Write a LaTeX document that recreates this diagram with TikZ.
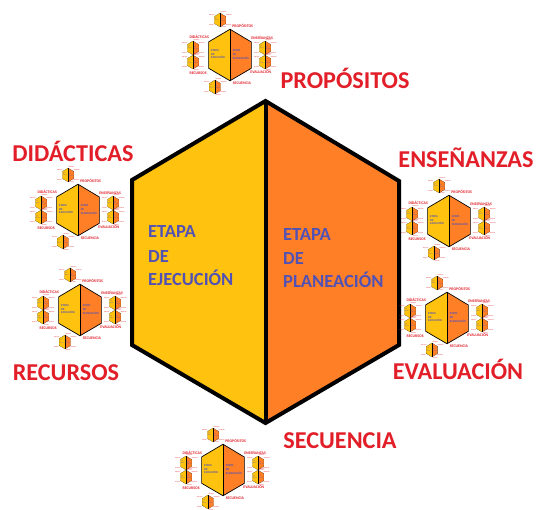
\documentclass[tikz,border=0pt]{standalone}
\usepackage{fontspec}
\setmainfont{Carlito}
\definecolor{hexyellow}{RGB}{255,194,14}
\definecolor{hexorange}{RGB}{255,127,39}
\definecolor{labred}{RGB}{226,30,40}
\definecolor{etapablue}{RGB}{82,82,180}
\tikzset{
  biglabel/.style={text=labred, font=\fontsize{24.2}{24.2}\selectfont\bfseries, inner sep=0pt, anchor=base},
  etapatext/.style={text=etapablue, font=\fontsize{18.5}{18.5}\selectfont\bfseries, inner sep=0pt, anchor=base west},
}
\newcommand{\drawhex}[1]{%
  \fill[hexyellow] (0,-161) -- (-133.5,-82) -- (-133.5,83) -- (0,161) -- cycle;
  \fill[hexorange] (0,-161) -- (133.5,-81) -- (133.5,83) -- (0,161) -- cycle;
  \draw[line width=#1, line join=miter] (0,-161) -- (-133.5,-82) -- (-133.5,83) -- (0,161) -- (133.5,83) -- (133.5,-81) -- cycle;
  \draw[line width=#1] (0,-161) -- (0,161);
  \node[etapatext] (ej1) at (-117.5,-24) {ETAPA};
  \node[etapatext] (ej2) at (-117.5,1) {DE};
  \node[etapatext] (ej3) at (-117.5,24) {EJECUCIÓN};
  \node[etapatext] (pl1) at (17.5,-21) {ETAPA};
  \node[etapatext] (pl2) at (17.5,3) {DE};
  \node[etapatext] (pl3) at (17.5,26) {PLANEACIÓN};
}
\newcommand{\drawlabels}{%
  \node[biglabel] (prop) at (79.5,-173) {PROPÓSITOS};
  \node[biglabel] (did) at (-192.5,-100) {DIDÁCTICAS};
  \node[biglabel] (ens) at (200.5,-94) {ENSEÑANZAS};
  \node[biglabel] (rec) at (-199.5,119) {RECURSOS};
  \node[biglabel] (eva) at (192.5,118) {EVALUACIÓN};
  \node[biglabel] (sec) at (74.5,186) {SECUENCIA};
}
\newcommand{\minidiag}[2]{%
  \begin{scope}[shift={(#1,#2)}, scale=0.16, transform shape]
    \drawhex{0.7pt}
    \drawlabels
    \foreach \a/\b in {-62/-219,-231/-44,-231/44,219/-44,219/44,-94/200} {
      \begin{scope}[shift={(\a,\b)}, scale=0.27, transform shape]
        \drawhex{0.04pt}
        \drawlabels
      \end{scope}
    }
  \end{scope}%
}
\begin{document}
\begin{tikzpicture}[x=1pt,y=-1pt]
  \fill[white] (0,0) rectangle (538,510);
  \path[use as bounding box] (0,0) rectangle (538,510);
  \begin{scope}[shift={(265.5,262)}]
    \drawhex{4pt}
    \drawlabels
    \minidiag{-35.5}{-207}
    \minidiag{-187.5}{-52}
    \minidiag{-185.5}{48}
    \minidiag{183.5}{-41}
    \minidiag{181.5}{56}
    \minidiag{-42.5}{208}
  \end{scope}
\end{tikzpicture}
\end{document}
